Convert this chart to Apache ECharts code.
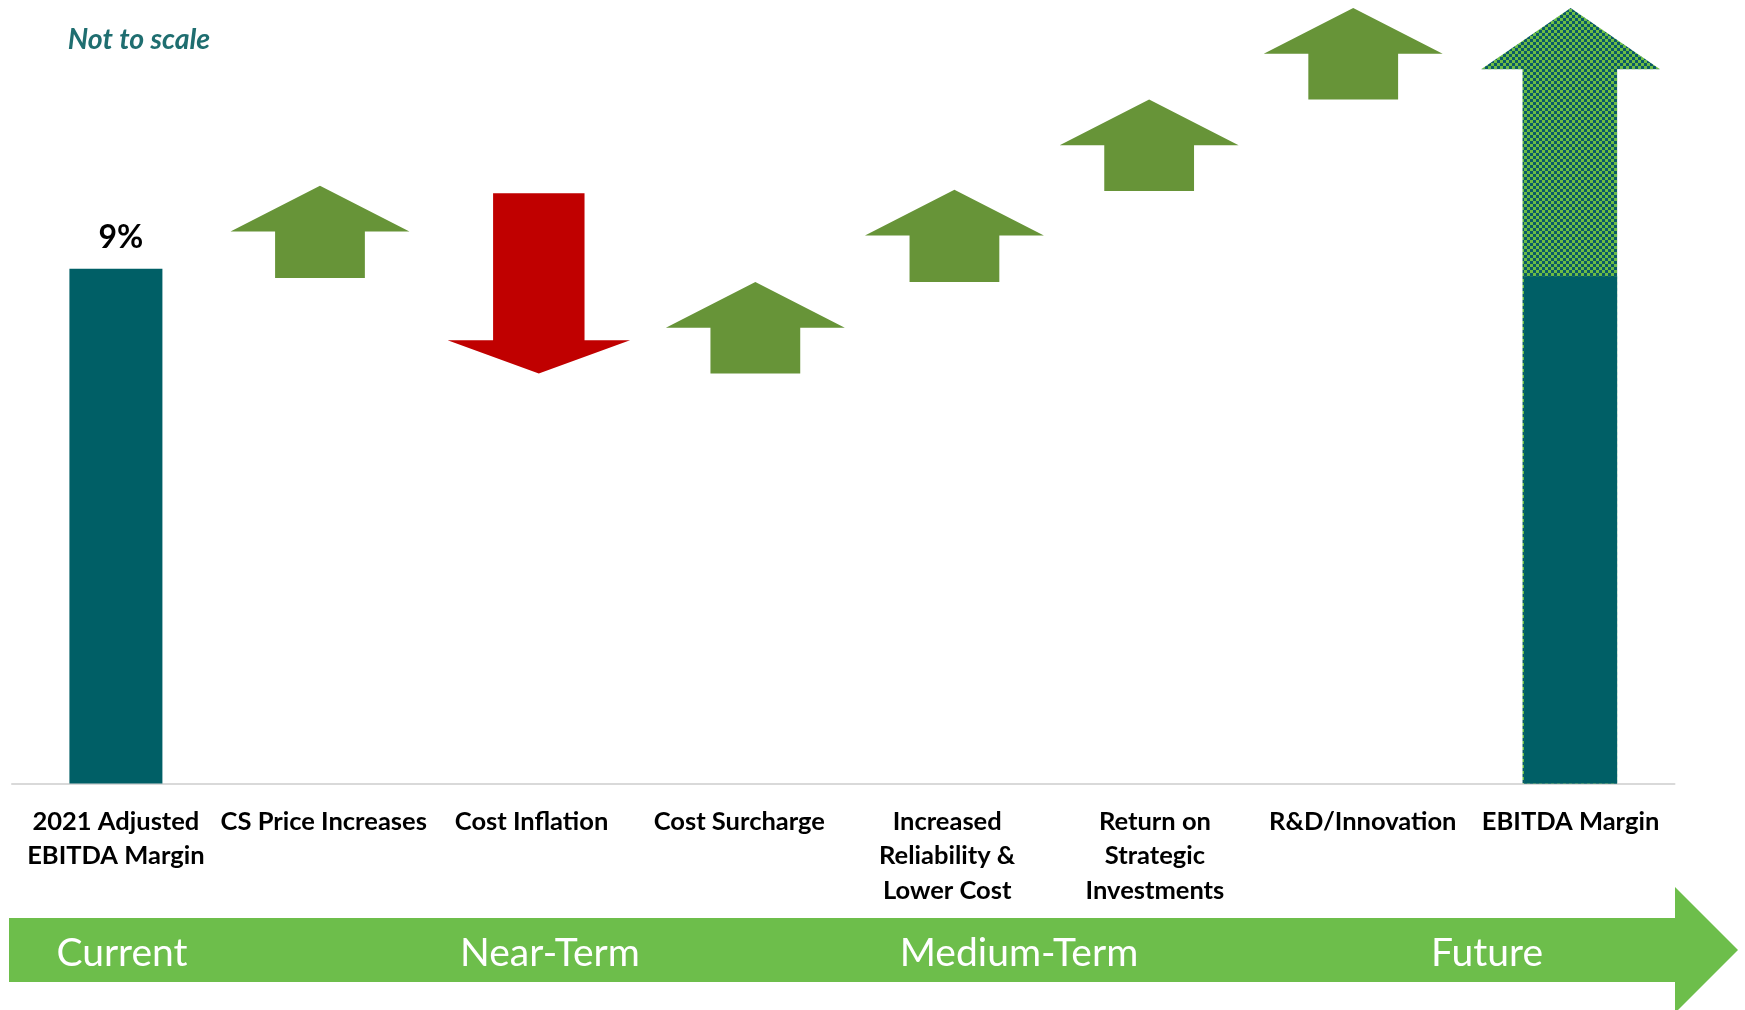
<!DOCTYPE html>
<html lang="en" style="height: 100%">
<head>
    <meta charset="utf-8">
</head>
<body style="height: 100%; margin: 0; background: #fff">
<div id="container" style="height: 100%"></div>

<script type="text/javascript" src="https://cdn.jsdelivr.net/npm/echarts@6.0.0/dist/echarts.min.js"></script>
<script type="text/javascript">
    // bridge categories (x axis)
    const categories = [
        '2021 Adjusted\nEBITDA Margin',
        'CS Price Increases',
        'Cost Inflation',
        'Cost Surcharge',
        'Increased\nReliability &\nLower Cost',
        'Return on\nStrategic\nInvestments',
        'R&D/Innovation',
        'EBITDA Margin'
    ];
    // solid margin bars (start and end of the bridge), "not to scale" units
    const marginValues = [9, '-', '-', '-', '-', '-', '-', 8.87];
    const marginLabels = ['9%', '', '', '', '', '', '', ''];
    // arrow steps: where each arrow starts and where its tip ends
    const stepFrom = [null, 8.84, 10.32, 7.17, 8.77, 10.36, 11.96, 8.87];
    const stepTo = [null, 10.45, 7.17, 8.77, 10.38, 11.96, 13.56, 13.56];
    // timeline banner
    const phases = ['Current', 'Near-Term', 'Medium-Term', 'Future'];

    // layout bits (not data)
    const phaseX = [122, 550, 1019, 1487];
    const arrowNudge = [0, -0.018, 0.035, 0.077, 0.035, -0.028, -0.046, 0];

    // checker fill for the future-margin arrow
    const cell = document.createElement('canvas');
    cell.width = 6;
    cell.height = 6;
    const ctx = cell.getContext('2d');
    ctx.fillStyle = '#0b5a66';
    ctx.fillRect(0, 0, 6, 6);
    ctx.fillStyle = '#6cbd45';
    ctx.fillRect(0, 0, 3, 3);
    ctx.fillRect(3, 3, 3, 3);
    const checker = { image: cell, repeat: 'repeat' };

    const arrowLook = {
        up: { head: 0.861, shaft: 0.432, headH: 45.7, fill: '#679438' },
        down: { head: 0.878, shaft: 0.44, headH: 33.3, fill: '#c00000' },
        target: { head: 0.861, shaft: 0.448, headH: 61.3, fill: checker }
    };

    const stepData = [];
    for (let i = 0; i < categories.length; i++) {
        if (stepFrom[i] != null) {
            stepData.push([i, stepFrom[i], stepTo[i]]);
        }
    }

    const fontFamily = 'Lato, "Open Sans", sans-serif';

    var dom = document.getElementById('container');
    var myChart = echarts.init(dom, null, { renderer: 'canvas' });

    var option = {
        animation: false,
        backgroundColor: '#ffffff',
        grid: {
            left: 12,
            right: 70.5,
            top: 0,
            bottom: 226.5,
            containLabel: false,
            outerBoundsMode: 'none'
        },
        xAxis: {
            type: 'category',
            data: categories,
            axisLine: { lineStyle: { color: '#d9d9d9', width: 2 } },
            axisTick: { show: false },
            axisLabel: {
                interval: 0,
                margin: 21,
                color: '#000000',
                fontFamily: fontFamily,
                fontWeight: 'bold',
                fontSize: 25.5,
                lineHeight: 34.5
            },
            splitLine: { show: false }
        },
        yAxis: {
            type: 'value',
            min: 0,
            max: 13.7,
            show: false,
            splitLine: { show: false }
        },
        series: [
            {
                type: 'custom',
                z: 1,
                encode: { x: 0, y: [1, 2] },
                data: stepData,
                renderItem: function (params, api) {
                    const i = api.value(0);
                    const last = i === categories.length - 1;
                    const kind = last ? 'target' : (api.value(2) > api.value(1) ? 'up' : 'down');
                    const look = arrowLook[kind];
                    const band = api.size([1, 0])[0];
                    const base = api.coord([i, last ? 0 : api.value(1)]);
                    const tip = api.coord([i, api.value(2)]);
                    const cx = base[0] + arrowNudge[i] * band;
                    const hw = look.head * band / 2;
                    const sw = look.shaft * band / 2;
                    const dir = tip[1] < base[1] ? 1 : -1;
                    const neck = tip[1] + dir * look.headH;
                    const edge = last ? 1.5 : 0;
                    return {
                        type: 'polygon',
                        shape: {
                            points: [
                                [cx - sw - edge, base[1]],
                                [cx + sw, base[1]],
                                [cx + sw, neck],
                                [cx + hw, neck],
                                [cx, tip[1]],
                                [cx - hw, neck],
                                [cx - sw - edge, neck]
                            ]
                        },
                        style: { fill: look.fill }
                    };
                }
            },
            {
                type: 'bar',
                z: 2,
                barWidth: 93,
                data: marginValues,
                itemStyle: { color: '#005f66' },
                label: {
                    show: true,
                    position: 'top',
                    distance: 15,
                    offset: [5, 0],
                    color: '#000000',
                    fontFamily: fontFamily,
                    fontWeight: 'bold',
                    fontSize: 32,
                    formatter: function (p) {
                        return marginLabels[p.dataIndex];
                    }
                }
            }
        ],
        graphic: [
            {
                type: 'text',
                style: {
                    text: 'Not to scale',
                    x: 139,
                    y: 40,
                    align: 'center',
                    verticalAlign: 'middle',
                    fill: '#1f6e70',
                    font: 'italic bold 28.5px ' + fontFamily
                }
            },
            {
                type: 'polygon',
                shape: {
                    points: [[9, 918], [1675, 918], [1675, 887], [1738, 950], [1675, 1013], [1675, 982], [9, 982]]
                },
                style: { fill: '#6dbe4b' }
            }
        ].concat(phases.map(function (name, k) {
            return {
                type: 'text',
                z: 10,
                style: {
                    text: name,
                    x: phaseX[k],
                    y: 953,
                    align: 'center',
                    verticalAlign: 'middle',
                    fill: '#ffffff',
                    font: '39px ' + fontFamily
                }
            };
        }))
    };

    myChart.setOption(option);
    window.addEventListener('resize', myChart.resize);
</script>
</body>
</html>
